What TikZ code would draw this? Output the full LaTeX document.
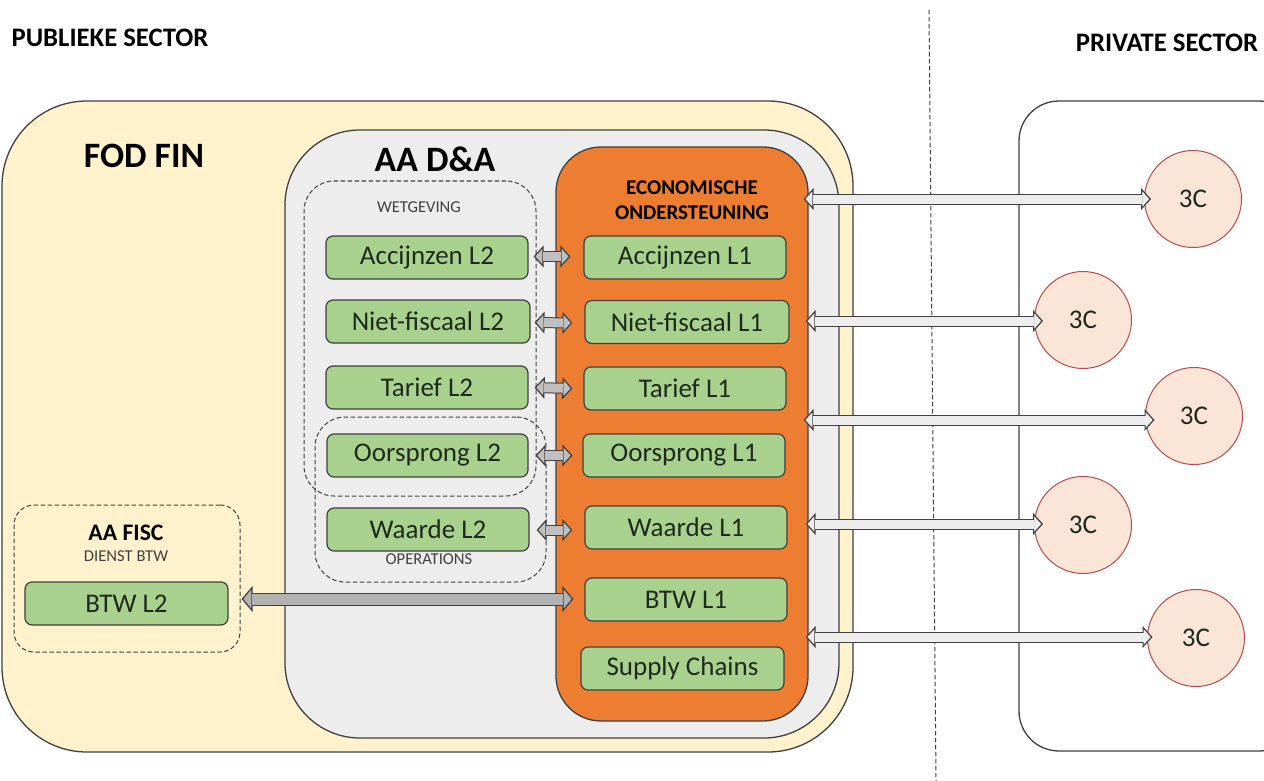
\documentclass[tikz,border=0pt]{standalone}
\usepackage{fontspec}
\setmainfont{Carlito}
\usetikzlibrary{arrows.meta,calc}
\definecolor{cream}{HTML}{FFF2CC}
\definecolor{panel}{HTML}{EDEDED}
\definecolor{orangeb}{HTML}{ED7D31}
\definecolor{greenb}{HTML}{A9D18E}
\definecolor{pinkc}{HTML}{FBE5D6}
\definecolor{edge}{HTML}{404040}
\definecolor{ink}{HTML}{1E2A1E}
\tikzset{
  container/.style n args={3}{draw=edge,line width=1.3pt,fill=#1,rounded corners=#2,inner sep=0pt,minimum width=#3},
  dashbox/.style={draw=edge,line width=1pt,dash pattern=on 4.5pt off 2.5pt,inner sep=0pt},
  unit/.style={draw=edge,line width=1.2pt,fill=greenb,rounded corners=7pt,minimum width=202pt,minimum height=43pt,inner sep=0pt,text=ink,font=\fontsize{27}{29}\selectfont},
  firm/.style={circle,draw=red!60!black!70,line width=1pt,fill=pinkc,minimum size=97pt,inner sep=0pt,text=ink,font=\fontsize{27}{29}\selectfont},
  caption/.style={inner sep=0pt,text=black,font=\bfseries\fontsize{#1}{#1}\selectfont},
  small/.style={inner sep=0pt,text=edge,font=\fontsize{16.6}{18}\selectfont},
  flow/.style n args={4}{line width=#1+2pt,draw=edge,
    {Triangle[length=#3,width=#2,line width=1.2pt,color=edge,fill=#4]}-{Triangle[length=#3,width=#2,line width=1.2pt,color=edge,fill=#4]},
    postaction={draw=#4,line width=#1,-,shorten <=#3-1pt,shorten >=#3-1pt}},
  minor/.style={flow={9pt}{22pt}{10pt}{black!25}},
  major/.style={flow={11pt}{26pt}{11pt}{black!30}},
  outward/.style={flow={9pt}{22pt}{10pt}{panel}}
}
\begin{document}
\begin{tikzpicture}[x=1pt,y=-1pt]
\useasboundingbox (0,0) rectangle (1264,781);
\fill[white] (0,0) rectangle (1264,781);

\node[container={cream}{85pt}{851pt},minimum height=651pt] (fod) at (427.5,426.5) {};
\node[container={panel}{75pt}{554pt},minimum height=608pt] (aad) at (562,434) {};
\node[container={orangeb}{45pt}{252pt},minimum height=574pt] (eco) at (682,434) {};
\node[draw=edge,line width=1.3pt,rounded corners=40pt,minimum width=280pt,minimum height=650pt,inner sep=0pt] (priv) at (1159,426) {};

\node[dashbox,rounded corners=30pt,minimum width=232pt,minimum height=315pt] (wet) at (420,338.5) {};
\node[dashbox,rounded corners=30pt,minimum width=231pt,minimum height=165pt] (ops) at (430.5,499.5) {};
\node[dashbox,rounded corners=20pt,minimum width=226pt,minimum height=147pt] (fisc) at (127,578.5) {};

\draw[edge,line width=1pt,dash pattern=on 4.5pt off 2.5pt] (929,10) coordinate (divtop) -- (936,781) coordinate (divbot);

\node[caption=26.7] (pub) at (110,38) {PUBLIEKE SECTOR};
\node[caption=26.7] (pri) at (1167,43) {PRIVATE SECTOR};
\node[caption=35.7] (fodt) at (144,156) {FOD FIN};
\node[caption=35.7] (aadt) at (435,159) {AA D\&A};
\node[caption=21] (ecot1) at (692,188) {ECONOMISCHE};
\node[caption=21] (ecot2) at (692,213) {ONDERSTEUNING};
\node[small] (wett) at (419,207) {WETGEVING};
\node[small] (opst) at (429,559) {OPERATIONS};
\node[caption=23.7] (fisct) at (126,533) {AA FISC};
\node[small] (fisct2) at (126,556) {DIENST BTW};

\node[unit] (a2) at (427,257.5) {Accijnzen L2};
\node[unit,minimum width=204pt] (n2) at (428,321.5) {Niet-fiscaal L2};
\node[unit] (t2) at (427,387.5) {Tarief L2};
\node[unit,minimum width=201pt] (o2) at (427.5,455.5) {Oorsprong L2};
\node[unit] (w2) at (428,529.5) {Waarde L2};
\node[unit,minimum width=203pt] (b2) at (126.5,603.5) {BTW L2};

\node[unit] (a1) at (685,257.5) {Accijnzen L1};
\node[unit,minimum width=204pt] (n1) at (687,322) {Niet-fiscaal L1};
\node[unit] (t1) at (685,388.5) {Tarief L1};
\node[unit] (o1) at (684,455.5) {Oorsprong L1};
\node[unit] (w1) at (686,527.5) {Waarde L1};
\node[unit] (b1) at (686,599.5) {BTW L1};
\node[unit,minimum width=203pt] (s1) at (682.5,668.5) {Supply Chains};

\node[firm] (c1) at (1193,199) {3C};
\node[firm] (c2) at (1083,320) {3C};
\node[firm] (c3) at (1194,416) {3C};
\node[firm] (c4) at (1083,525) {3C};
\node[firm] (c5) at (1196,638) {3C};

\draw[minor] ($(a2.east)+(5,-1)$) -- ($(a1.west)+(-13,-1)$);
\draw[minor] ($(n2.east)+(4,1)$) -- ($(n1.west)+(-12,1)$);
\draw[minor] ($(t2.east)+(6,0)$) -- ($(t1.west)+(-11,0)$);
\draw[minor] ($(o2.east)+(7,0)$) -- ($(o1.west)+(-10,0)$);
\draw[minor] ($(w2.east)+(7,0.5)$) -- ($(w1.west)+(-12,2.5)$);
\draw[major] ($(b2.east)+(13,-4.5)$) -- ($(b1.west)+(-11,-0.5)$);

\draw[outward] ($(eco.east |- c1)+(-5,0)$) -- ($(c1.west)+(7,0)$);
\draw[outward] ($(eco.east |- c2)+(-3,1)$) -- ($(c2.west)+(9,1)$);
\draw[outward] ($(eco.east |- c3)+(-5,4)$) -- ($(c3.west)+(9.5,4)$);
\draw[outward] ($(eco.east |- c4)+(-3,-1)$) -- ($(c4.west)+(9,-1)$);
\draw[outward] ($(eco.east |- c5)+(-3,-1)$) -- ($(c5.west)+(5.5,-1)$);
\end{tikzpicture}
\end{document}
